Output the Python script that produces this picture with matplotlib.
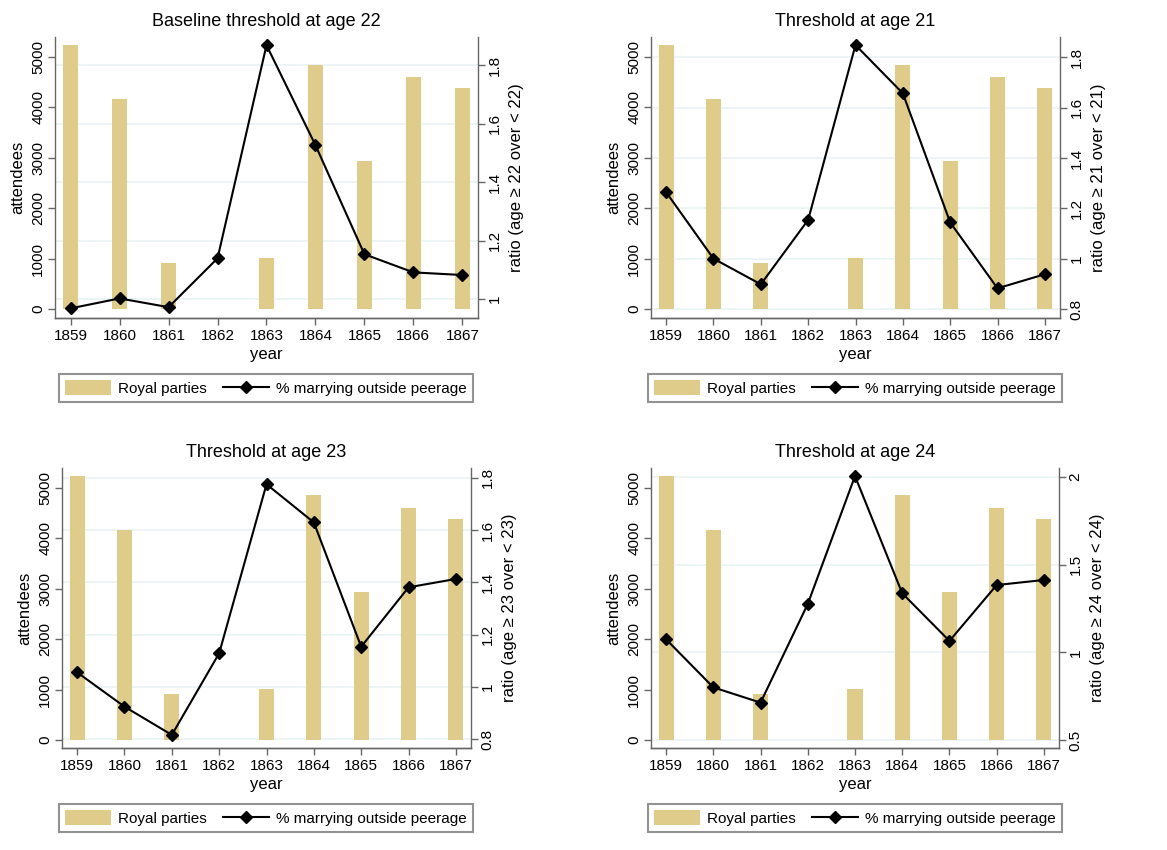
import matplotlib
matplotlib.use("Agg")
import matplotlib.pyplot as plt
import numpy as np

plt.rcParams['font.family'] = ['Liberation Sans', 'DejaVu Sans']

years = [1859, 1860, 1861, 1862, 1863, 1864, 1865, 1866, 1867]
attendees = [5240, 4160, 920, 0, 1020, 4850, 2930, 4600, 4380]

ratio_22 = [0.968, 1.002, 0.972, 1.139, 1.868, 1.526, 1.153, 1.091, 1.082]
ratio_21 = [1.264, 1.000, 0.898, 1.154, 1.849, 1.657, 1.144, 0.882, 0.938]
ratio_23 = [1.056, 0.925, 0.817, 1.129, 1.775, 1.629, 1.154, 1.381, 1.413]
ratio_24 = [1.074, 0.800, 0.713, 1.276, 2.006, 1.337, 1.065, 1.384, 1.413]

titles = ["Baseline threshold at age 22", "Threshold at age 21",
          "Threshold at age 23", "Threshold at age 24"]
ages = [22, 21, 23, 24]
ratios = [ratio_22, ratio_21, ratio_23, ratio_24]
right_ticks = [[1, 1.2, 1.4, 1.6, 1.8], [0.8, 1, 1.2, 1.4, 1.6, 1.8],
               [0.8, 1, 1.2, 1.4, 1.6, 1.8], [0.5, 1, 1.5, 2]]
right_lims = [(0.935, 1.896), (0.764, 1.881), (0.767, 1.837), (0.454, 2.052)]
left_lims = [(-179, 5397), (-179, 5397), (-159, 5390), (-159, 5390)]

W, H = 1167, 850
# axes boxes in pixels: left, top, right, bottom
boxes = [(55, 37, 478, 318), (651, 37, 1060, 318),
         (62, 468, 471, 748), (651, 468, 1059, 748)]
legend_centers = [(266, 388), (855, 388), (266, 818), (855, 818)]

BAR = '#dfcb8a'
GRID = '#eaf2f3'
SPINE = '#666666'

fig = plt.figure(figsize=(W / 100, H / 100), dpi=100)

for i in range(4):
    l, t, r, b = boxes[i]
    ax = fig.add_axes([l / W, 1 - b / H, (r - l) / W, (b - t) / H])
    ax2 = ax.twinx()

    ax.set_xlim(1858.68, 1867.32)
    ax.set_ylim(*left_lims[i])
    ax2.set_ylim(*right_lims[i])

    # gridlines follow the ratio axis but sit under the bars
    lo, hi = left_lims[i]
    rlo, rhi = right_lims[i]
    for rv in right_ticks[i]:
        yv = lo + (rv - rlo) / (rhi - rlo) * (hi - lo)
        ax.axhline(yv, color=GRID, lw=1.2, zorder=0)

    bars = ax.bar(years, attendees, width=0.32, color=BAR, zorder=2)
    line, = ax2.plot(years, ratios[i], color='black', lw=1.5, marker='D',
                     markersize=6.5, zorder=3)

    for a in (ax, ax2):
        a.spines['top'].set_visible(False)
        for s in ('left', 'bottom', 'right'):
            a.spines[s].set_color(SPINE)
            a.spines[s].set_linewidth(1.0)
        a.tick_params(axis='both', colors=SPINE, labelcolor='black',
                      length=5, width=1.0, labelsize=11)
    ax2.spines['left'].set_visible(False)
    ax.spines['right'].set_visible(False)

    ax.set_xticks(years)
    ax.set_xticklabels([str(y) for y in years])
    ax.set_yticks([0, 1000, 2000, 3000, 4000, 5000])
    ax.set_yticklabels([str(v) for v in [0, 1000, 2000, 3000, 4000, 5000]],
                       rotation=90, va='center')
    ax2.set_yticks(right_ticks[i])
    ax2.set_yticklabels(['%g' % v for v in right_ticks[i]], rotation=90,
                        va='center')
    ax.tick_params(axis='x', pad=3)
    ax.tick_params(axis='y', pad=2)
    ax2.tick_params(axis='y', pad=2)

    ax.set_xlabel('year', fontsize=12, labelpad=3)
    ax.set_ylabel('attendees', fontsize=12, labelpad=4)
    ax2.set_ylabel('ratio (age \u2265 %d over < %d)' % (ages[i], ages[i]),
                   fontsize=12, labelpad=5)
    ax.set_title(titles[i], fontsize=13, pad=8)

    cx, cy = legend_centers[i]
    leg = fig.legend([bars, line], ['Royal parties', '% marrying outside peerage'],
                     loc='center', ncol=2, bbox_to_anchor=(cx / W, 1 - cy / H),
                     fontsize=11, frameon=True, fancybox=False,
                     handlelength=3.0, handleheight=1.05, handletextpad=0.46,
                     columnspacing=1.1, borderpad=0.4, borderaxespad=0)
    leg.get_frame().set_edgecolor('#777777')
    leg.get_frame().set_linewidth(1.5)

fig.savefig('out.png', dpi=100)
